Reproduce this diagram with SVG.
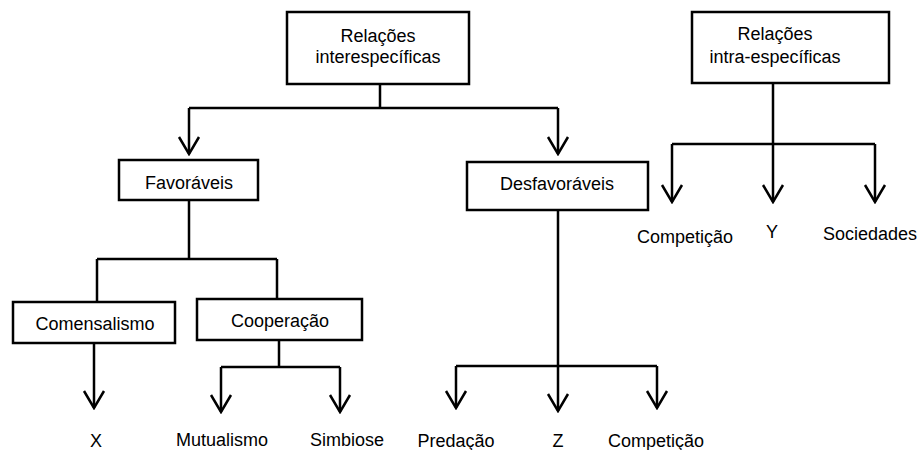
<svg xmlns="http://www.w3.org/2000/svg" width="920" height="450" viewBox="0 0 920 450">
<style>
.box{fill:#fff;stroke:#000;stroke-width:2.5}
.t{font-family:"Liberation Sans",Arial,sans-serif;font-size:18px;fill:#000;text-anchor:middle}
.c{fill:none;stroke:#000;stroke-width:2.5}
.a{marker-end:url(#v)}
</style>
<defs>
<marker id="v" markerUnits="userSpaceOnUse" viewBox="-20 -12 22 24" markerWidth="22" markerHeight="24" refX="0" refY="0" orient="auto">
<path d="M-17,-10 L0,0 L-17,10" fill="none" stroke="#000" stroke-width="2.5"/>
</marker>
</defs>
<rect width="920" height="450" fill="#fff"/>
<g id="connectors">
<path class="c" d="M380,84 V108 M189,108 H558"/>
<path class="c a" d="M189,108 V154"/>
<path class="c a" d="M558,108 V154"/>
<path class="c" d="M189,200 V259 M97,259 H277 M97,259 V302 M277,259 V299"/>
<path class="c a" d="M94,343 V408"/>
<path class="c" d="M279,340 V367 M221,367 H340"/>
<path class="c a" d="M221,367 V412"/>
<path class="c a" d="M340,367 V412"/>
<path class="c" d="M558,210 V366 M456,366 H657"/>
<path class="c a" d="M456,366 V408"/>
<path class="c a" d="M558,366 V411"/>
<path class="c a" d="M657,366 V408"/>
<path class="c" d="M773,83 V144 M672,144 H875"/>
<path class="c a" d="M672,144 V202"/>
<path class="c a" d="M773,144 V202"/>
<path class="c a" d="M875,144 V202"/>
</g>
<g id="inter">
<rect class="box" x="287" y="12" width="182" height="72"/>
<text class="t" x="378" y="42">Relações</text>
<text class="t" x="378" y="63">interespecíficas</text>
</g>
<g id="intra">
<rect class="box" x="692" y="12" width="197" height="71"/>
<text class="t" x="775" y="40">Relações</text>
<text class="t" x="775" y="63">intra-específicas</text>
</g>
<g id="favoraveis">
<rect class="box" x="119" y="160" width="139" height="40"/>
<text class="t" x="189" y="189">Favoráveis</text>
</g>
<g id="desfavoraveis">
<rect class="box" x="467" y="162" width="181" height="48"/>
<text class="t" x="557" y="190">Desfavoráveis</text>
</g>
<g id="comensalismo">
<rect class="box" x="13" y="302" width="162" height="41"/>
<text class="t" x="95" y="330">Comensalismo</text>
</g>
<g id="cooperacao">
<rect class="box" x="197" y="299" width="165" height="41"/>
<text class="t" x="280" y="327">Cooperação</text>
</g>
<g id="labels">
<text class="t" x="685" y="243">Competição</text>
<text class="t" x="772" y="238">Y</text>
<text class="t" x="870" y="240">Sociedades</text>
<text class="t" x="96" y="447">X</text>
<text class="t" x="222" y="446">Mutualismo</text>
<text class="t" x="347" y="446">Simbiose</text>
<text class="t" x="456" y="447">Predação</text>
<text class="t" x="558" y="447">Z</text>
<text class="t" x="656" y="447">Competição</text>
</g>
</svg>
